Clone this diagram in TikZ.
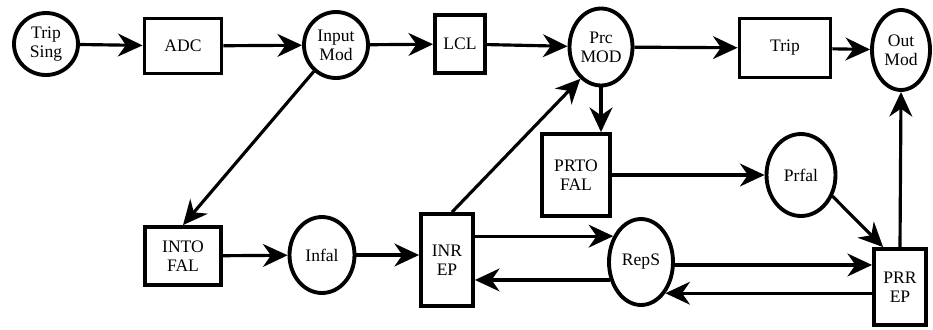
\documentclass[tikz,border=0pt]{standalone}
\usepackage{fontspec}
\newfontfamily\diagfont{Liberation Serif}
\usetikzlibrary{arrows.meta,shapes.geometric}

\begin{document}
\begin{tikzpicture}[x=0.02cm,y=-0.02cm,->,>={Stealth[length=14pt,width=13pt,inset=4.5pt]},
                    line width=1.8pt,font=\diagfont\fontsize{10}{11}\selectfont,
                    circ/.style = {ellipse, draw, line width=2.2pt, inner sep=0pt, align=center},
                    box/.style  = {rectangle, draw, line width=2.2pt, inner sep=0pt, align=center}]
  \useasboundingbox (0,0) rectangle (933,329);

  \node[circ,minimum width=1.28cm,minimum height=1.24cm] (trip_sing) at (46,44)   {Trip\\Sing};
  \node[box, minimum width=1.54cm,minimum height=1.10cm] (adc)       at (183,46)  {ADC};
  \node[circ,minimum width=1.28cm,minimum height=1.32cm] (input_mod) at (336,45)  {Input\\Mod};
  \node[box, minimum width=1.00cm,minimum height=1.16cm] (lcl)       at (460,44)  {LCL};
  \node[circ,minimum width=1.26cm,minimum height=1.54cm] (prc_mod)   at (601,47)  {Prc\\MOD};
  \node[box, minimum width=1.82cm,minimum height=1.18cm] (trip)      at (785,48)  {Trip};
  \node[circ,minimum width=1.16cm,minimum height=1.60cm] (out_mod)   at (901,50)  {Out\\Mod};
  \node[box, minimum width=1.52cm,minimum height=1.16cm] (into_fal)  at (183,256) {INTO\\FAL};
  \node[circ,minimum width=1.30cm,minimum height=1.52cm] (infal)     at (322,255) {Infal};
  \node[box, minimum width=1.04cm,minimum height=1.84cm] (inr_ep)    at (447,260) {INR\\EP};
  \node[circ,minimum width=1.28cm,minimum height=1.72cm] (reps)      at (641,262) {RepS};
  \node[box, minimum width=1.36cm,minimum height=1.64cm] (prto_fal)  at (576,175) {PRTO\\FAL};
  \node[circ,minimum width=1.38cm,minimum height=1.64cm] (prfal)     at (801,175) {Prfal};
  \node[box, minimum width=1.04cm,minimum height=1.52cm] (prr_ep)    at (900,287) {PRR\\EP};

  \path (trip_sing)     edge (adc)
        (adc)           edge (input_mod)
        (input_mod)     edge (lcl)
        (lcl)           edge (prc_mod)
        (prc_mod)       edge (trip)
        (trip)          edge (out_mod)
        (input_mod.230) edge (into_fal.north)
        (into_fal)      edge (infal)
        (infal)         edge (infal -| inr_ep.west)
        (inr_ep.84)     edge (prc_mod.237)
        (prc_mod.south) edge (prc_mod.south |- prto_fal.north)
        (prto_fal)      edge (prfal)
        (prfal.326)     edge ([xshift=0.22cm]prr_ep.north west)
        (prr_ep.north)  edge (out_mod.south)
        (reps.137 -| inr_ep.east) edge (reps.137)
        (reps.210)      edge (reps.210 -| inr_ep.east)
        (reps.355)      edge (reps.355 -| prr_ep.west)
        (reps.308 -| prr_ep.west) edge (reps.308);

\end{tikzpicture}
\end{document}
